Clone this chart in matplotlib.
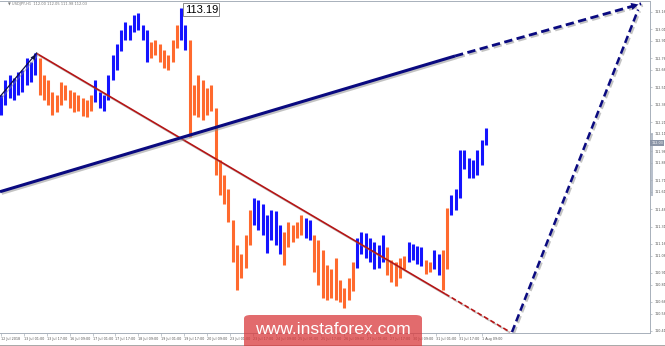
import matplotlib
matplotlib.use("Agg")
import matplotlib.pyplot as plt
import matplotlib.patheffects as pe
from matplotlib.patches import FancyBboxPatch, Rectangle
import matplotlib.transforms as mtransforms

# one bar = 3 hourly candles (high / low in price)
highs = [112.44, 112.57, 112.62, 112.59, 112.64, 112.66, 112.76, 112.73, 112.81,
         112.76, 112.62, 112.57, 112.47, 112.44, 112.56, 112.53, 112.49, 112.47,
         112.44, 112.42, 112.40, 112.44,
         112.57, 112.47, 112.44, 112.62, 112.79, 112.88, 113.00, 113.07, 113.05,
         113.13, 113.15, 113.05, 113.00,
         112.90, 112.92, 112.88, 112.83, 112.79, 112.92, 113.05,
         113.19, 113.05,
         112.92, 112.53, 112.62, 112.57, 112.50, 112.53, 112.33, 111.88, 111.75,
         111.63, 111.37, 111.15, 111.07, 111.24, 111.45,
         111.56, 111.54, 111.50, 111.41, 111.45, 111.44, 111.32,
         111.26, 111.35, 111.32, 111.35, 111.41,
         111.38, 111.37,
         111.24, 111.19, 111.11, 110.98, 110.94, 111.04, 110.85, 110.78, 110.87, 111.00,
         111.21, 111.26, 111.25, 111.21, 111.18, 111.15, 111.24,
         111.13, 111.02, 111.00, 111.04, 111.06,
         111.18, 111.16, 111.14, 111.13,
         111.02, 111.00,
         111.11, 111.07,
         111.11, 111.47,
         111.58, 111.63, 111.97, 111.97, 111.90, 111.88, 111.97, 112.06, 112.16]
lows = [112.27, 112.36, 112.42, 112.40, 112.44, 112.47, 112.53, 112.56, 112.62,
        112.44, 112.40, 112.36, 112.27, 112.30, 112.36, 112.40, 112.33, 112.30,
        112.31, 112.26, 112.25, 112.31,
        112.38, 112.33, 112.31, 112.40, 112.57, 112.66, 112.82, 112.92, 112.92,
        112.99, 113.00, 112.92, 112.73,
        112.76, 112.79, 112.73, 112.68, 112.66, 112.73, 112.85,
        112.92, 112.83,
        112.08, 112.27, 112.25, 112.23, 112.27, 112.31, 111.75, 111.58, 111.50,
        111.35, 111.00, 110.76, 110.87, 110.95, 111.15,
        111.32, 111.28, 111.24, 111.08, 111.19, 111.15, 111.07,
        110.98, 111.13, 111.18, 111.21, 111.24,
        111.21, 111.19,
        110.92, 110.81, 110.69, 110.68, 110.69, 110.68, 110.66, 110.61, 110.68, 110.75,
        110.95, 111.07, 111.04, 111.00, 110.94, 110.95, 111.00,
        110.89, 110.83, 110.80, 110.87, 110.94,
        111.00, 111.02, 110.99, 110.97,
        110.90, 110.92,
        110.94, 110.89,
        110.76, 110.94,
        111.41, 111.45, 111.56, 111.81, 111.73, 111.73, 111.75, 111.84, 112.01]
direction = ("UUUUUUUUU" "DDDDDDDDDDDDD" "UUUUUUUUUUUUU" "DDDDDDD" "UU"
             "DDDDDDDDDDDDDDD" "UUUUUUU" "DDDDD" "UU" "DDDDDDDDDD" "UUUUUUU"
             "DDDDD" "UUUU" "DD" "UU" "DD" "UUUUUUUUU")
hours_per_bar = 3

time_labels = ["12 Jul 2018", "13 Jul 01:00", "13 Jul 17:00", "16 Jul 09:00",
               "17 Jul 01:00", "17 Jul 17:00", "18 Jul 09:00", "19 Jul 01:00",
               "19 Jul 17:00", "20 Jul 09:00", "23 Jul 01:00", "23 Jul 17:00",
               "24 Jul 09:00", "25 Jul 01:00", "25 Jul 17:00", "26 Jul 09:00",
               "27 Jul 01:00", "27 Jul 17:00", "30 Jul 09:00", "31 Jul 01:00",
               "31 Jul 17:00", "1 Aug 09:00"]
label_step = 16
price_ticks = [113.16, 113.01, 112.91, 112.76, 112.66, 112.51, 112.36, 112.21,
               112.11, 111.96, 111.86, 111.71, 111.61, 111.46, 111.31, 111.16,
               111.06, 110.91, 110.81, 110.66, 110.56, 110.41]
current_price = 112.03
peak_price = 113.19

# wave marks (hour index, price)
navy_solid = [(-0.7, 111.61), (317.5, 112.78)]
navy_dash = [(317.5, 112.78), (447.6, 113.23)]
red_solid = [(25.2, 112.80), (310.5, 110.73)]
red_dash = [(310.5, 110.73), (356.0, 110.40)]
steep_dash = [(357.3, 110.40), (445.5, 113.18)]
small_arrow = [(-0.7, 112.43), (25.2, 112.81)]

BLUE = "#1414ff"
ORANGE = "#ff6a2e"
NAVY = "#0a0a80"
RED = "#b51515"

fig = plt.figure(figsize=(6.65, 3.46), dpi=100)
ax = fig.add_axes([0, 13 / 346, 650 / 665, 332 / 346])
ax.set_xlim(-0.7, 453.8)
ax.set_ylim(110.392, 113.254)

xs = [i * hours_per_bar for i in range(len(highs))]
cols = [BLUE if d == "U" else ORANGE for d in direction]
ax.vlines(xs, lows, highs, colors=cols, lw=2.2, zorder=2)

shadow = [pe.SimpleLineShadow(offset=(1.2, -1.2), shadow_color="#888888", alpha=0.5),
          pe.Normal()]


def seg(pts, **kw):
    ax.plot([p[0] for p in pts], [p[1] for p in pts], path_effects=shadow,
            solid_capstyle="butt", **kw)


seg(red_solid, color=RED, lw=1.2, zorder=3)
seg(red_dash, color=RED, lw=1.2, ls=(0, (3, 1.5)), zorder=3)
seg(navy_solid, color=NAVY, lw=2.2, zorder=4)
seg(navy_dash, color=NAVY, lw=2.0, ls=(0, (3, 1.6)), zorder=4)
seg(steep_dash, color=NAVY, lw=1.8, ls=(0, (3, 1.6)), zorder=4)
ax.annotate("", xy=navy_dash[1], xytext=(navy_dash[1][0] - 6, navy_dash[1][1] - 0.02),
            arrowprops=dict(arrowstyle="-|>", mutation_scale=13, color=NAVY, lw=0),
            zorder=5)
seg(small_arrow, color="#111144", lw=0.9, zorder=4)
ax.annotate("", xy=small_arrow[1], xytext=(small_arrow[1][0] - 4, small_arrow[1][1] - 0.07),
            arrowprops=dict(arrowstyle="-|>", mutation_scale=9, color="#111144", lw=0),
            zorder=5)

# peak label
ax.text(xs[direction.index("U", 40)] + 2.5, peak_price - 0.01, "113.19", fontsize=8,
        family="Liberation Sans", va="center", ha="left", zorder=6,
        bbox=dict(boxstyle="square,pad=0.12", fc="white", ec="#888888", lw=0.7))

# axes cosmetics
ax.spines["left"].set_visible(False)
for s in ["top", "right", "bottom"]:
    ax.spines[s].set_color("#a8b0ba")
    ax.spines[s].set_linewidth(0.7)
ax.yaxis.tick_right()
ax.set_yticks(price_ticks)
ax.set_yticklabels([f"{v:.2f}" for v in price_ticks])
ax.tick_params(axis="y", length=1.5, width=0.5, colors="#a8b0ba", labelcolor="#555555",
               labelsize=2.4, pad=1.5)
ax.set_xticks([i * label_step for i in range(len(time_labels))])
ax.set_xticklabels(time_labels, ha="left")
ax.tick_params(axis="x", length=2, width=0.5, colors="#a8b0ba", labelcolor="#555555",
               labelsize=2.4, pad=0.8)

# current price marker and scroll bar
trans = mtransforms.blended_transform_factory(ax.transAxes, ax.transData)
ax.text(1.002, current_price, f"{current_price:.2f}", transform=trans, fontsize=2.4,
        color="white", va="center", ha="left", clip_on=False,
        bbox=dict(boxstyle="square,pad=0.25", fc="#8a94a6", ec="none"))
ax.add_patch(Rectangle((1.0, 111.57), 0.004, 0.55, transform=trans, fc="#b8c0cc",
                       ec="none", clip_on=False))

fig.text(8 / 665, 1 - 4 / 346, "\u25bc USDJPY,H1  112.00 112.05 111.98 112.03",
         fontsize=2.6, color="#777777", va="center", ha="left")

# watermark
fig.patches.append(FancyBboxPatch((244 / 665, -0.02), 178 / 665, 31 / 346 + 0.02,
                                  boxstyle="round,pad=0,rounding_size=0.01",
                                  transform=fig.transFigure, fc="#d93a3c", ec="none",
                                  alpha=0.75, zorder=10))
fig.text(333 / 665, 1 - 330 / 346, "www.instaforex.com", fontsize=12.6,
         family="Liberation Sans", color="white", ha="center", va="center", zorder=11)
fig.add_artist(plt.Line2D([0, 1], [0.5 / 346, 0.5 / 346], transform=fig.transFigure,
                          color="#999999", lw=1.2))

fig.savefig("out.png", dpi=100)
